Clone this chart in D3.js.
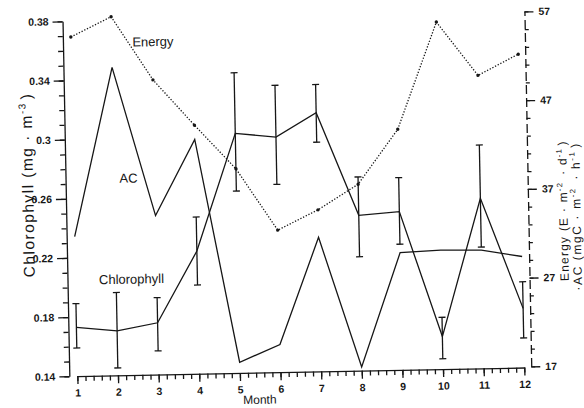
<!DOCTYPE html>
<html lang="en">
<head>
<meta charset="UTF-8">
<title>Chlorophyll, AC and Energy by month</title>
<script src="https://d3js.org/d3.v7.min.js"></script>
<style>
    body { margin: 0; background: #fff; }
    svg { display: block; background: #fff; }
    text { font-family: "Liberation Sans", Arial, sans-serif; fill: #161616; }
    .tick text { font-size: 10.5px; font-weight: bold; }
    .tick line, .domain { stroke: #161616; stroke-width: 1.3; }
    .series { fill: none; stroke: #161616; stroke-width: 1.3; }
</style>
</head>
<body>
<svg id="chart" width="584" height="408"></svg>
<script>
const months = [1, 2, 3, 4, 5, 6, 7, 8, 9, 10, 11, 12];
// right axis (E·m-2·d-1)
const energy = [55.1, 57.3, 50.1, 44.9, 39.9, 32.9, 35.1, 37.9, 44.0, 56.0, 49.9, 52.2];
// right axis (mgC·m-2·h-1)
const ac = [32.6, 51.6, 34.8, 43.3, 18.1, 20.0, 32.0, 17.3, 30.1, 30.3, 30.2, 29.4];
// left axis (mg·m-3) with error bars
const chl = [0.173, 0.170, 0.175, 0.223, 0.302, 0.299, 0.315, 0.245, 0.247, 0.162, 0.255, 0.180];
const chlLow = [0.159, 0.145, 0.156, 0.200, 0.263, 0.267, 0.295, 0.217, 0.225, 0.147, 0.222, 0.160];
const chlHigh = [0.189, 0.196, 0.192, 0.246, 0.343, 0.334, 0.334, 0.271, 0.270, 0.175, 0.291, 0.198];
const leftTicks = [0.14, 0.18, 0.22, 0.26, 0.3, 0.34, 0.38];
const rightTicks = [17, 27, 37, 47, 57];

const svg = d3.select("#chart");
// the scanned figure sits slightly tilted
const g = svg.append("g").attr("transform", "rotate(-1.1, 290, 200)");

const xLeft = 66, xRight = 528;
const x = d3.scaleLinear().domain([1, 12]).range([74, 521]);
const yL = d3.scaleLinear().domain([0.14, 0.38]).range([372, 17]);
const yR = d3.scaleLinear().domain([17, 57]).range([371, 16]);

// x axis: minor ticks every 0.2 month, majors on the month
const minorX = d3.range(1, 12.001, 0.2);
g.append("g").attr("transform", "translate(0,372)")
    .call(d3.axisBottom(x).tickValues(minorX).tickSize(5).tickSizeOuter(0).tickFormat(""));
g.append("g").attr("transform", "translate(0,372)")
    .call(d3.axisBottom(x).tickValues(months).tickSize(8).tickSizeOuter(0).tickPadding(5).tickFormat(d3.format("d")))
    .call(a => a.select(".domain").remove());

// left axis
g.append("g").attr("transform", `translate(${xLeft},0)`)
    .call(d3.axisLeft(yL).tickValues(d3.range(0.14, 0.3801, 0.01)).tickSize(5).tickSizeOuter(0).tickFormat(""));
g.append("g").attr("transform", `translate(${xLeft},0)`)
    .call(d3.axisLeft(yL).tickValues(leftTicks).tickSize(10).tickPadding(4).tickFormat(d => String(+d.toFixed(2))))
    .call(a => a.select(".domain").remove());

// right axis
g.append("g").attr("transform", `translate(${xRight},0)`)
    .call(d3.axisRight(yR).tickValues(d3.range(17, 57.1, 2)).tickSize(4).tickSizeOuter(0).tickFormat(""))
    .call(a => a.select(".domain").attr("stroke-dasharray", "9,4"));
g.append("g").attr("transform", `translate(${xRight},0)`)
    .call(d3.axisRight(yR).tickValues(rightTicks).tickSize(9).tickPadding(5).tickFormat(d3.format("d")))
    .call(a => a.select(".domain").remove());

// Energy, dotted
const energyPts = months.map((m, i) => [x(m), yR(energy[i])]);
g.append("path").attr("class", "series")
    .attr("d", d3.line()(energyPts))
    .attr("stroke-dasharray", "1.3,1.7").attr("stroke-width", 1.6);
g.selectAll(".edot").data(energyPts).enter().append("circle")
    .attr("cx", d => d[0]).attr("cy", d => d[1]).attr("r", 1.7).attr("fill", "#161616");

// AC
g.append("path").attr("class", "series")
    .attr("d", d3.line()(months.map((m, i) => [x(m), yR(ac[i])])));

// Chlorophyll with error bars
g.append("path").attr("class", "series")
    .attr("d", d3.line()(months.map((m, i) => [x(m), yL(chl[i])])));
const bars = g.selectAll(".ebar").data(months).enter().append("g").attr("class", "ebar");
bars.append("line").attr("class", "series")
    .attr("x1", d => x(d)).attr("x2", d => x(d))
    .attr("y1", (d, i) => yL(chlLow[i])).attr("y2", (d, i) => yL(chlHigh[i]));
bars.append("line").attr("class", "series")
    .attr("x1", d => x(d) - 3.5).attr("x2", d => x(d) + 3.5)
    .attr("y1", (d, i) => yL(chlLow[i])).attr("y2", (d, i) => yL(chlLow[i]));
bars.append("line").attr("class", "series")
    .attr("x1", d => x(d) - 3.5).attr("x2", d => x(d) + 3.5)
    .attr("y1", (d, i) => yL(chlHigh[i])).attr("y2", (d, i) => yL(chlHigh[i]));

// series labels
const labels = [["Energy", 156, 39], ["AC", 129, 175], ["Chlorophyll", 130, 276]];
g.selectAll(".lbl").data(labels).enter().append("text")
    .attr("x", d => d[1]).attr("y", d => d[2]).attr("dy", "0.35em")
    .attr("text-anchor", "middle").style("font-size", "13px")
    .text(d => d[0]);

// axis titles
g.append("text").attr("x", 256).attr("y", 399).attr("dy", "0.35em")
    .attr("text-anchor", "middle").style("font-size", "12px").text("Month");

// rotated title; letter spacing stretched so it spans about `len` px
function title(parts, cx, cy, len, size) {
    const t = g.append("text")
        .attr("transform", `translate(${cx},${cy}) rotate(-90)`)
        .attr("text-anchor", "middle").attr("dy", "0.35em")
        .style("font-size", size + "px");
    let n = 0;
    parts.forEach(p => {
        if (Array.isArray(p)) {
            t.append("tspan").attr("dy", -size * 0.4).style("font-size", (size * 0.65) + "px").text(p[0]);
            t.append("tspan").attr("dy", size * 0.4).text("\u200a");
            n += p[0].length + 1;
        } else {
            t.append("tspan").text(p);
            n += p.length;
        }
    });
    const w = t.node().getComputedTextLength();
    if (w < len) t.style("letter-spacing", ((len - w) / n) + "px");
}
title(["Chlorophyll  (mg · m", ["-3"], ")"], 28, 180, 186, 15.5);
title(["Energy  (E · m", ["-2"], " · d", ["-1"], ")"], 563, 216, 142, 12);
title(["·AC  (mgC · m", ["-2"], " · h", ["-1"], ")"], 576, 222, 150, 12);
</script>
</body>
</html>
